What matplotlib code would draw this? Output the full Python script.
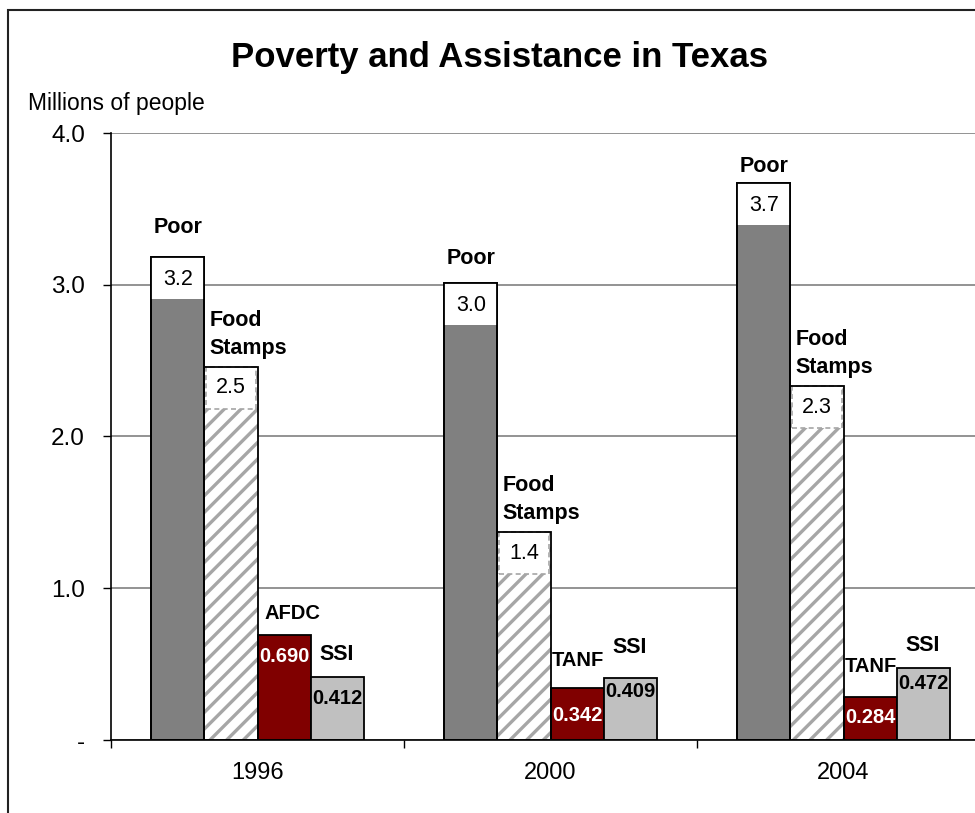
import matplotlib
matplotlib.use("Agg")
import matplotlib.pyplot as plt
from matplotlib.patches import Rectangle
import numpy as np

plt.rcParams['font.family'] = ['Liberation Sans', 'DejaVu Sans']
plt.rcParams['hatch.linewidth'] = 2.4

# Data (millions of people)
years = ['1996', '2000', '2004']
poor = [3.18, 3.01, 3.67]
food_stamps = [2.46, 1.37, 2.33]
cash_aid = [0.690, 0.342, 0.284]
cash_aid_names = ['AFDC', 'TANF', 'TANF']
ssi = [0.412, 0.409, 0.472]

# label offsets in pixels (above bar top for names, below for values)
poor_name_off = [30, 25, 17]
fs_name_off = [32, 33, 33]
cash_name_off = [22, 28, 30]
cash_name_dx = [8, 1, 1]
ssi_name_off = [23, 30, 23]
cash_val_off = [21, 27, 21]
ssi_val_off = [21, 14, 15]

PX = 0.72  # points per pixel at dpi 100
c_poor = '#808080'
c_hatch = '#a6a6a6'
c_cash = '#800000'
c_ssi = '#c0c0c0'

fig = plt.figure(figsize=(9.75, 8.13), dpi=100)
ax = fig.add_axes([111 / 975, 73 / 813, 879 / 975, 607 / 813])

x = np.arange(len(years))
w = 0.181
x_poor = x + 0.5 - 1.5 * w
x_fs = x + 0.5 - 0.5 * w
x_cash = x + 0.5 + 0.5 * w
x_ssi = x + 0.5 + 1.5 * w

ax.bar(x_poor, poor, w, color=c_poor, edgecolor='black', linewidth=1.3, zorder=2)
ax.bar(x_fs, food_stamps, w, color='white', edgecolor=c_hatch, linewidth=0,
       hatch='//', zorder=2)
ax.bar(x_fs, food_stamps, w, fill=False, edgecolor='black', linewidth=1.3, zorder=4)
ax.bar(x_cash, cash_aid, w, color=c_cash, edgecolor='black', linewidth=1.3, zorder=2)
ax.bar(x_ssi, ssi, w, color=c_ssi, edgecolor='black', linewidth=1.3, zorder=2)

# white value boxes at the top of the tall bars
box_h = 42 / 152
for i in range(len(years)):
    ax.add_patch(Rectangle((x_poor[i] - w / 2, poor[i] - box_h), w, box_h,
                           facecolor='white', edgecolor='none', zorder=3))
    ax.bar(x_poor[i], poor[i], w, fill=False, edgecolor='black', linewidth=1.3, zorder=4)
    ax.add_patch(Rectangle((x_fs[i] - w / 2 + 0.005, food_stamps[i] - box_h), w - 0.01, box_h,
                           facecolor='white', edgecolor=c_hatch, linewidth=1.2,
                           linestyle=(0, (3, 2)), zorder=3))

    ax.annotate(f'{poor[i]:.1f}', (x_poor[i], poor[i]), xytext=(0, -22 * PX),
                textcoords='offset points', ha='center', va='center', fontsize=15.5, zorder=5)
    ax.annotate(f'{food_stamps[i]:.1f}', (x_fs[i], food_stamps[i]), xytext=(0, -21 * PX),
                textcoords='offset points', ha='center', va='center', fontsize=15.5, zorder=5)
    ax.annotate(f'{cash_aid[i]:.3f}', (x_cash[i], cash_aid[i]), xytext=(0, -cash_val_off[i] * PX),
                textcoords='offset points', ha='center', va='center', fontsize=14.5,
                fontweight='bold', color='white', zorder=5)
    ax.annotate(f'{ssi[i]:.3f}', (x_ssi[i], ssi[i]), xytext=(0, -ssi_val_off[i] * PX),
                textcoords='offset points', ha='center', va='center', fontsize=14.5,
                fontweight='bold', color='black', zorder=5)

    ax.annotate('Poor', (x_poor[i], poor[i]), xytext=(0, poor_name_off[i] * PX),
                textcoords='offset points', ha='center', va='center', fontsize=15.5,
                fontweight='bold')
    ax.annotate('Food\nStamps', (x_fs[i] - w / 2, food_stamps[i]), xytext=(5 * PX, fs_name_off[i] * PX),
                textcoords='offset points', ha='left', va='center', fontsize=15.5,
                fontweight='bold', linespacing=1.45)
    ax.annotate(cash_aid_names[i], (x_cash[i], cash_aid[i]),
                xytext=(cash_name_dx[i] * PX, cash_name_off[i] * PX),
                textcoords='offset points', ha='center', va='center', fontsize=14.5,
                fontweight='bold')
    ax.annotate('SSI', (x_ssi[i], ssi[i]), xytext=(0, ssi_name_off[i] * PX),
                textcoords='offset points', ha='center', va='center', fontsize=15.5,
                fontweight='bold')

ax.set_xlim(0, 3)
ax.set_ylim(0, 4)
ax.set_yticks([0, 1, 2, 3, 4])
ax.set_yticklabels(['-', '1.0', '2.0', '3.0', '4.0'], fontsize=17.5)
ax.set_xticks([0, 1, 2, 3])
ax.set_xticklabels([])
ax.set_xticks(x + 0.5, minor=True)
ax.set_xticklabels(years, minor=True, fontsize=17)
ax.tick_params(axis='y', direction='out', length=8 * PX, width=1, pad=18 * PX)
ax.tick_params(axis='x', which='major', direction='out', length=8 * PX, width=1)
ax.tick_params(axis='x', which='minor', length=0, pad=22 * PX)

ax.grid(axis='y', color='#808080', linewidth=1.2)
ax.set_axisbelow(True)
for s in ['top', 'right']:
    ax.spines[s].set_visible(False)
ax.spines['left'].set_color('black')
ax.spines['bottom'].set_color('black')
ax.spines['left'].set_linewidth(1.2)
ax.spines['bottom'].set_linewidth(1.2)

fig.text(500 / 975, 1 - 58 / 813, 'Poverty and Assistance in Texas', ha='center', va='center',
         fontsize=25, fontweight='bold')
fig.text(28 / 975, 1 - 103 / 813, 'Millions of people', ha='left', va='center', fontsize=16.5)

# outer chart border
fig.patches.append(Rectangle((8 / 975, -0.2), 1.2, 1.2 - 10 / 813, transform=fig.transFigure,
                             fill=False, edgecolor='#222222', linewidth=1.5))

fig.savefig('out.png', dpi=100)
